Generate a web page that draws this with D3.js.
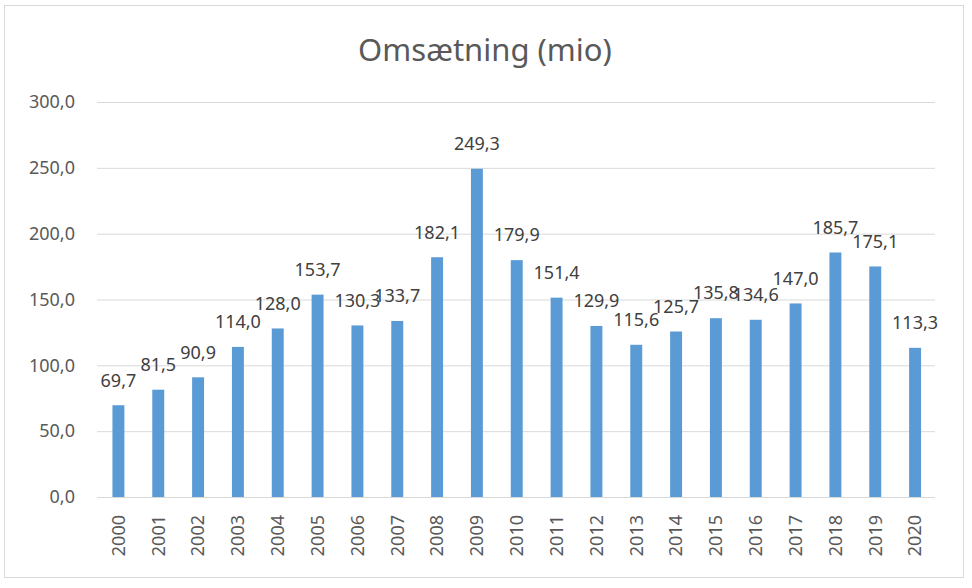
<!DOCTYPE html>
<html><head><meta charset="utf-8">
<script src="https://cdn.jsdelivr.net/npm/d3@7"></script>
<style>body{margin:0;background:#fff;}svg{display:block;}</style>
</head><body><svg id="c" width="972" height="588"></svg>
<script>
const title = "Omsætning (mio)";
const years = ["2000","2001","2002","2003","2004","2005","2006","2007","2008","2009","2010","2011","2012","2013","2014","2015","2016","2017","2018","2019","2020"];
const values = [69.7,81.5,90.9,114.0,128.0,153.7,130.3,133.7,182.1,249.3,179.9,151.4,129.9,115.6,125.7,135.8,134.6,147.0,185.7,175.1,113.3];
const yTicks = [0,50,100,150,200,250,300];

const svg = d3.select("#c");
const font = "'Noto Sans', sans-serif";
const fmt = v => d3.format(".1f")(v).replace(".", ",");

svg.append("rect").attr("x",4.5).attr("y",5.5).attr("width",959).attr("height",572)
  .attr("fill","#fff").attr("stroke","#d9d9d9").attr("stroke-width",1);

const x = d3.scaleBand().domain(years).range([98.5,935]).paddingInner(0.7).paddingOuter(0.35);
const y = d3.scaleLinear().domain([0,300]).range([497,102]);

svg.append("text").attr("x",485).attr("y",61).attr("text-anchor","middle")
  .attr("font-family",font).attr("font-size",31).attr("fill","#595959").text(title);

const yAxis = svg.append("g").attr("transform","translate(97,0)")
  .call(d3.axisLeft(y).tickValues(yTicks).tickSize(-838).tickFormat(fmt).tickPadding(22));
yAxis.select(".domain").remove();
yAxis.selectAll(".tick line").attr("stroke","#d9d9d9").attr("stroke-width",1);
yAxis.selectAll(".tick text").attr("font-family",font).attr("font-size",18).attr("fill","#595959");

svg.append("g").selectAll("rect").data(values).join("rect")
  .attr("x",(d,i)=>x(years[i])).attr("width",x.bandwidth())
  .attr("y",d=>y(d)).attr("height",d=>y(0)-y(d)).attr("fill","#5b9bd5");

const xAxis = svg.append("g").attr("transform","translate(0,497)")
  .call(d3.axisBottom(x).tickSize(0).tickPadding(0));
xAxis.select(".domain").attr("stroke","#d9d9d9").attr("d","M97,0.5H935");
xAxis.selectAll(".tick text").attr("font-family",font).attr("font-size",18).attr("fill","#595959")
  .attr("transform","rotate(-90)").attr("text-anchor","end").attr("dy","0.35em").attr("x",-18).attr("y",0);

svg.append("g").selectAll("text").data(values).join("text")
  .attr("x",(d,i)=>x(years[i])+x.bandwidth()/2).attr("y",d=>y(d)-25)
  .attr("dy","0.35em").attr("text-anchor","middle")
  .attr("font-family",font).attr("font-size",18).attr("fill","#404040").text(fmt);
</script></body></html>
